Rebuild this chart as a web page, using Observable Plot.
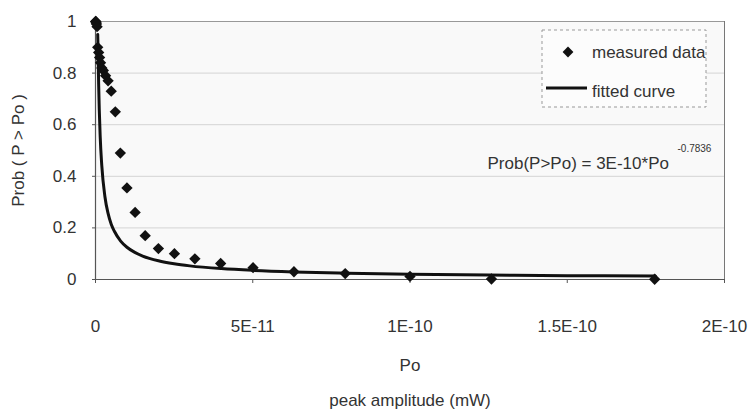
<!DOCTYPE html>
<html>
<head>
<meta charset="utf-8">
<script src="https://cdn.jsdelivr.net/npm/d3@7"></script>
<script src="https://cdn.jsdelivr.net/npm/@observablehq/plot@0.6"></script>
<style>
  html, body { margin: 0; padding: 0; background: #fff; }
  #chart { width: 749px; height: 412px; }
</style>
</head>
<body>
<div id="chart"></div>
<script>
// measured data: Po (mW) and Prob(P > Po)
const measuredPo = [0.05e-12, 0.1e-12, 0.2e-12, 0.3e-12, 0.5e-12, 0.7e-12, 1.0e-12, 1.3e-12, 1.6e-12, 2.0e-12,
  2.5e-12, 3.2e-12, 4.0e-12, 5.0e-12, 6.3e-12, 7.9e-12, 10e-12, 12.6e-12, 15.8e-12, 20e-12,
  25.1e-12, 31.6e-12, 39.8e-12, 50.1e-12, 63.1e-12, 79.4e-12, 100e-12, 125.9e-12, 177.8e-12];
const measuredProb = [1.0, 1.0, 0.995, 0.99, 0.98, 0.90, 0.88, 0.86, 0.84, 0.82,
  0.81, 0.79, 0.77, 0.73, 0.65, 0.49, 0.355, 0.26, 0.17, 0.12,
  0.10, 0.08, 0.062, 0.046, 0.030, 0.023, 0.012, 0.002, 0.001];

// fitted curve
const fittedPo = [0.7e-12, 0.8e-12, 1.0e-12, 1.5e-12, 2e-12, 3e-12, 4e-12, 5e-12, 6e-12, 8e-12, 10e-12,
  12.5e-12, 15e-12, 20e-12, 25e-12, 30e-12, 40e-12, 50e-12, 63e-12, 80e-12, 100e-12,
  125e-12, 150e-12, 178e-12];
const fittedProb = [0.95, 0.90, 0.758, 0.552, 0.441, 0.321, 0.256, 0.214, 0.187, 0.149, 0.125,
  0.105, 0.091, 0.0726, 0.061, 0.0528, 0.0422, 0.0354, 0.0295, 0.0245, 0.0206,
  0.0173, 0.0150, 0.0131];

const xTicks = [0, 5e-11, 1e-10, 1.5e-10, 2e-10];
const xTickLabels = ["0", "5E-11", "1E-10", "1.5E-10", "2E-10"];
const yTicks = [0, 0.2, 0.4, 0.6, 0.8, 1];
const yTickLabels = ["0", "0.2", "0.4", "0.6", "0.8", "1"];
const gridValues = [0.2, 0.4, 0.6, 0.8];

const legendLabels = ["measured data", "fitted curve"];
const equationText = "Prob(P>Po) = 3E-10*Po";
const equationExponent = "-0.7836";
const yTitle = "Prob ( P > Po )";
const xTitle1 = "Po";
const xTitle2 = "peak amplitude (mW)";

const measured = measuredPo.map((x, i) => ({x, y: measuredProb[i]}));
const fitted = fittedPo.map((x, i) => ({x, y: fittedProb[i]}));

const textColor = "#333";
const fs = 17;

const legendMark = (index, scales, values, dims) => {
  const right = dims.width - dims.marginRight;
  const top = dims.marginTop;
  const g = d3.create("svg:g").attr("text-anchor", "start");
  g.append("rect")
    .attr("x", right - 182).attr("y", top + 9)
    .attr("width", 164).attr("height", 77)
    .attr("fill", "#fcfcfc").attr("stroke", "#999")
    .attr("stroke-dasharray", "3,3").attr("stroke-width", 1);
  const s = 5.4;
  const cx = right - 156, cy = top + 31;
  g.append("path")
    .attr("d", `M${cx},${cy - s}L${cx + s},${cy}L${cx},${cy + s}L${cx - s},${cy}Z`)
    .attr("fill", "#111");
  g.append("text")
    .attr("x", right - 132).attr("y", top + 32).attr("dy", "0.32em")
    .attr("fill", textColor).attr("font-size", fs)
    .text(legendLabels[0]);
  g.append("line")
    .attr("x1", right - 178).attr("x2", right - 137)
    .attr("y1", top + 67).attr("y2", top + 67)
    .attr("stroke", "#111").attr("stroke-width", 3);
  g.append("text")
    .attr("x", right - 132).attr("y", top + 71).attr("dy", "0.32em")
    .attr("fill", textColor).attr("font-size", fs)
    .text(legendLabels[1]);
  return g.node();
};

const chart = Plot.plot({
  width: 749,
  height: 412,
  marginLeft: 95,
  marginRight: 25,
  marginTop: 21,
  marginBottom: 133,
  style: {fontFamily: "'Liberation Sans', Arial, sans-serif", fontSize: fs + "px", color: textColor, background: "#fff"},
  x: {domain: [0, 2e-10]},
  y: {domain: [0, 1]},
  marks: [
    Plot.frame({fill: "#f9f9f9", stroke: null}),
    Plot.ruleY(gridValues, {stroke: "#d4d4d4", strokeWidth: 1}),
    Plot.ruleY([1], {stroke: "#999", strokeWidth: 1.2}),
    Plot.ruleX([2e-10], {stroke: "#777", strokeWidth: 1}),
    Plot.ruleY([0], {stroke: "#555", strokeWidth: 1.2}),
    Plot.ruleX([0], {stroke: "#555", strokeWidth: 1.2}),
    Plot.axisX({
      ticks: xTicks,
      tickFormat: (d) => xTickLabels[xTicks.indexOf(d)],
      tickSize: 4,
      tickPadding: 36,
      stroke: "#555",
      fill: textColor,
      fontSize: fs,
      label: null
    }),
    Plot.axisY({
      ticks: yTicks,
      tickFormat: (d) => yTickLabels[yTicks.indexOf(d)],
      tickSize: 3,
      tickPadding: 16,
      stroke: "#555",
      fill: textColor,
      fontSize: fs,
      label: null
    }),
    Plot.line(fitted, {x: "x", y: "y", stroke: "#111", strokeWidth: 3, curve: "monotone-x"}),
    Plot.dot(measured, {x: "x", y: "y", symbol: "diamond2", r: 5.1, fill: "#111", stroke: null}),
    legendMark,
    Plot.text([equationText], {text: (d) => d, frameAnchor: "top-right", dx: -237, dy: 135, textAnchor: "start", fontSize: 17, fill: textColor}),
    Plot.text([equationExponent], {text: (d) => d, frameAnchor: "top-right", dx: -47, dy: 123, textAnchor: "start", fontSize: 10, fill: textColor}),
    Plot.text([yTitle], {text: (d) => d, frameAnchor: "left", dx: -77, rotate: -90, textAnchor: "middle", fontSize: fs, fill: textColor}),
    Plot.text([xTitle1], {text: (d) => d, frameAnchor: "bottom", dy: 91, fontSize: fs, fill: textColor}),
    Plot.text([xTitle2], {text: (d) => d, frameAnchor: "bottom", dy: 126, fontSize: fs, fill: textColor})
  ]
});
document.getElementById("chart").appendChild(chart);
</script>
</body>
</html>
